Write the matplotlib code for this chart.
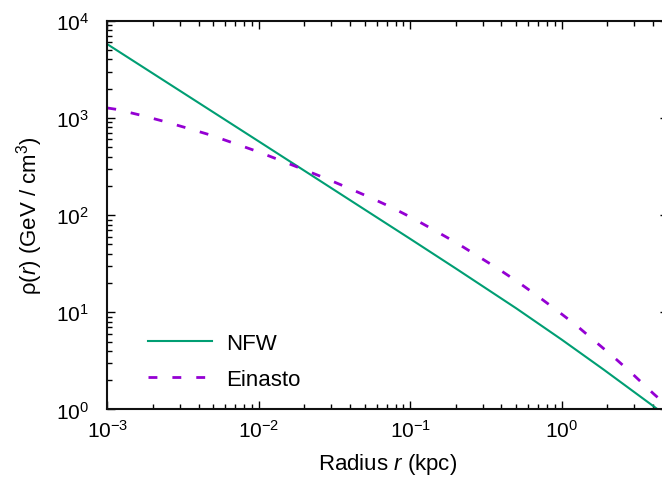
import numpy as np
import matplotlib
matplotlib.use('Agg')
from matplotlib import pyplot as plt
from matplotlib.ticker import LogLocator, NullFormatter

plt.rcParams['font.family'] = ['Liberation Sans', 'DejaVu Sans']
plt.rcParams['mathtext.fontset'] = 'custom'
plt.rcParams['mathtext.rm'] = 'Liberation Sans'
plt.rcParams['mathtext.it'] = 'Liberation Sans:italic'
plt.rcParams['font.size'] = 16

# valores (r en kpc, rho en GeV/cm^3)
r_nfw = [1e-3, 2e-3, 5e-3, 1e-2, 0.0192, 5e-2, 0.1, 0.2, 0.5, 1.0, 1.88, 4.24]
rho_nfw = [5730, 2865, 1146, 573, 298, 114, 56.9, 28.2, 11.0, 5.23, 2.59, 1.02]

r_ein = [1e-3, 1.146e-3, 1.65e-3, 2.37e-3, 3.37e-3, 4.82e-3, 6.82e-3, 9.77e-3, 0.0138,
         0.0197, 0.0274, 0.0384, 0.0542, 0.0753, 0.105, 0.1455, 0.202, 0.275, 0.378,
         0.514, 0.697, 0.933, 1.253, 1.66, 2.20, 2.90, 4.02, 4.3]
rho_ein = [1265, 1225, 1069, 920, 785, 665, 550, 452, 367,
           295, 240, 192, 152, 120, 92.0, 69.3, 51.8, 38.4, 28.2,
           20.5, 14.6, 10.4, 7.30, 5.02, 3.47, 2.36, 1.46, 1.33]

fig = plt.figure(figsize=(6.62, 4.81), dpi=100)
ax = fig.add_axes([0.1621, 0.1466, 0.8464, 0.8083])

ax.plot(r_nfw, rho_nfw, color='#009e73', lw=1.5, label='NFW')
ax.plot(r_ein, rho_ein, color='#9400d3', lw=2.0, linestyle=(0, (3.2, 5.4)), label='Einasto')

ax.set_xscale('log')
ax.set_yscale('log')
ax.set_xlim(1e-3, 5)
ax.set_ylim(1, 1e4)

ax.xaxis.set_major_locator(LogLocator(base=10, numticks=10))
ax.xaxis.set_minor_locator(LogLocator(base=10, subs=np.arange(2, 10), numticks=20))
ax.yaxis.set_major_locator(LogLocator(base=10, numticks=10))
ax.yaxis.set_minor_locator(LogLocator(base=10, subs=np.arange(2, 10), numticks=20))
ax.xaxis.set_minor_formatter(NullFormatter())
ax.yaxis.set_minor_formatter(NullFormatter())

ax.tick_params(which='both', direction='in', top=True, right=True, width=1.0, labelsize=15)
ax.tick_params(which='major', length=6)
ax.tick_params(which='minor', length=3.5)
ax.tick_params(axis='x', which='major', pad=7)
ax.tick_params(axis='y', which='major', pad=13)
for s in ax.spines.values():
    s.set_linewidth(1.5)
    s.set_color('#111111')

ax.set_xlabel(r'Radius $\it{r}$ (kpc)', fontsize=16, labelpad=7)
ax.set_ylabel(r'ρ($\it{r}$) (GeV / cm$^3$)', fontsize=16, labelpad=8)

ax.legend(loc='lower left', bbox_to_anchor=(0.0726, 0.050), frameon=False,
          handlelength=2.88, handletextpad=0.63, labelspacing=0.68,
          borderpad=0, borderaxespad=0, fontsize=16)

fig.savefig('out.png', dpi=100)
